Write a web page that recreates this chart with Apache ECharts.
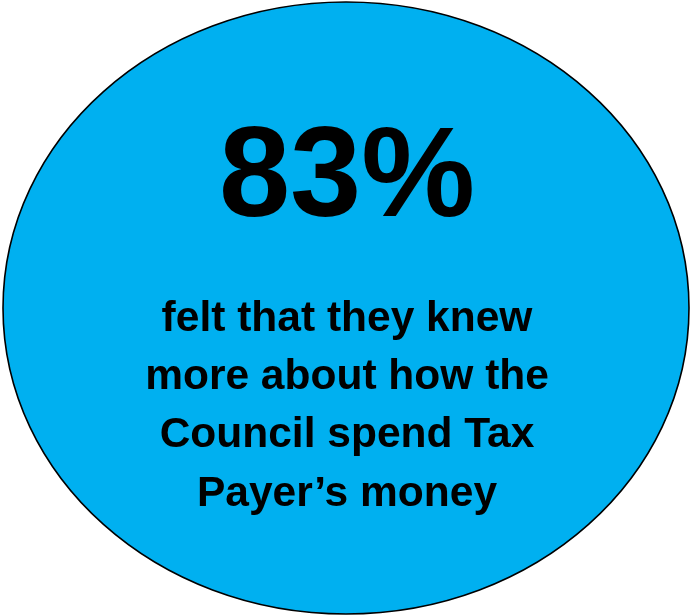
<!DOCTYPE html>
<html>
<head>
<meta charset="utf-8">
<script src="https://cdn.jsdelivr.net/npm/echarts@6/dist/echarts.min.js"></script>
<style>
html,body{margin:0;padding:0;background:#fff;}
#chart{width:690px;height:615px;}
</style>
</head>
<body>
<div id="chart"></div>
<script>
const percentValue = 83;
const captionLines = [
  "felt that they knew",
  "more about how the",
  "Council spend Tax",
  "Payer\u2019s money"
];

const chart = echarts.init(document.getElementById('chart'), null, {renderer: 'canvas'});
const font = '"Liberation Sans", Arial, sans-serif';
const lineY0 = 319, lineStep = 58.3;

const elements = [
  {
    type: 'ellipse',
    shape: {cx: 346, cy: 308, rx: 343, ry: 306},
    style: {fill: '#00B0F0', stroke: '#000', lineWidth: 1.6}
  },
  {
    type: 'text',
    x: 347, y: 181,
    style: {
      text: percentValue + '%',
      font: 'bold 128px ' + font,
      fill: '#000',
      textAlign: 'center',
      textVerticalAlign: 'middle'
    }
  }
];
captionLines.forEach((t, i) => {
  elements.push({
    type: 'text',
    x: 347, y: lineY0 + i * lineStep,
    style: {
      text: t,
      font: 'bold 42.5px ' + font,
      fill: '#000',
      textAlign: 'center',
      textVerticalAlign: 'middle'
    }
  });
});

chart.setOption({
  animation: false,
  graphic: {elements: elements}
});
</script>
</body>
</html>
